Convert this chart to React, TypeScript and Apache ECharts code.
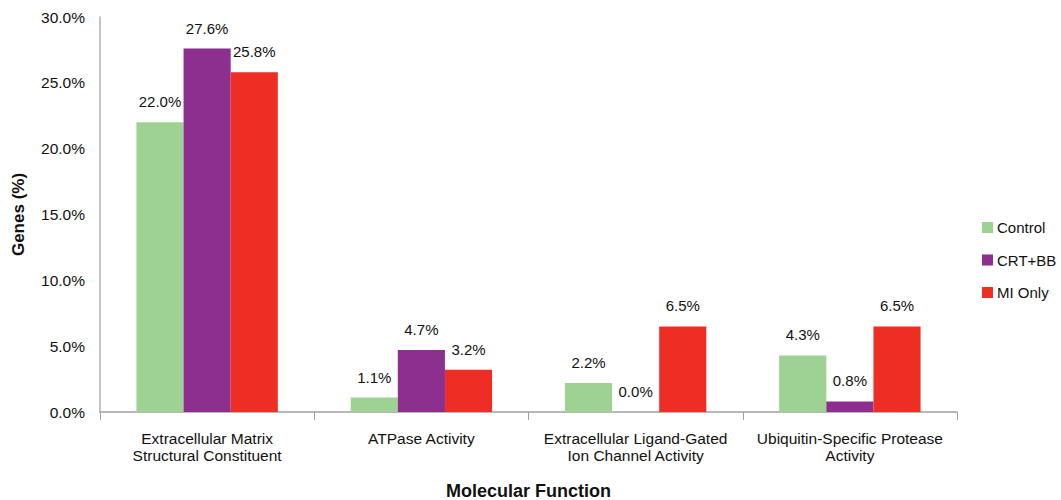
import React, { useEffect, useRef } from "react";
import * as echarts from "echarts";

const categories = [
  "Extracellular Matrix\nStructural Constituent",
  "ATPase Activity",
  "Extracellular Ligand-Gated\nIon Channel Activity",
  "Ubiquitin-Specific Protease\nActivity",
];
const control = [22.0, 1.1, 2.2, 4.3];
const crtbb = [27.6, 4.7, 0.0, 0.8];
const miOnly = [25.8, 3.2, 6.5, 6.5];
const seriesNames = ["Control", "CRT+BB", "MI Only"];
const colors = ["#9dd293", "#8c2f8f", "#ee2e24"];

const FONT = "Liberation Sans, Arial, sans-serif";

export default function App() {
  const ref = useRef<HTMLDivElement>(null);
  useEffect(() => {
    if (!ref.current) return;
    const chart = echarts.init(ref.current, null, { renderer: "svg" });
    const data = [control, crtbb, miOnly];
    chart.setOption({
      animation: false,
      textStyle: { fontFamily: FONT },
      grid: { left: 100, right: 104, top: 17, bottom: 88, containLabel: false, outerBoundsMode: "none" },
      legend: {
        orient: "vertical",
        left: 982,
        top: 220,
        padding: 0,
        itemWidth: 11,
        itemHeight: 11,
        itemGap: 17.5,
        icon: "rect",
        textStyle: { fontSize: 15, color: "#111", fontFamily: FONT, padding: [0, 0, 0, -1] },
        data: seriesNames,
      },
      xAxis: {
        type: "category",
        data: categories,
        name: "Molecular Function",
        nameLocation: "middle",
        nameGap: 70,
        nameTextStyle: { fontSize: 18, fontWeight: "bold", color: "#111", fontFamily: FONT },
        axisLine: { lineStyle: { color: "#a0a0a0", width: 1.5 } },
        axisTick: { show: true, length: 8, lineStyle: { color: "#a0a0a0" } },
        axisLabel: { fontSize: 15.5, color: "#111", margin: 18, lineHeight: 17, fontFamily: FONT, interval: 0 },
      },
      yAxis: {
        type: "value",
        min: 0,
        max: 30,
        interval: 5,
        name: "Genes (%)",
        nameLocation: "middle",
        nameGap: 73,
        nameTextStyle: { fontSize: 17, fontWeight: "bold", color: "#111", fontFamily: FONT },
        axisLine: { show: true, lineStyle: { color: "#b0b0b0", width: 1.5 } },
        axisTick: { show: false },
        splitLine: { show: false },
        axisLabel: {
          fontSize: 15.5,
          color: "#111",
          margin: 15,
          fontFamily: FONT,
          formatter: (v: number) => v.toFixed(1) + "%",
        },
      },
      series: seriesNames.map((name, i) => ({
        name,
        type: "bar",
        data: data[i],
        barGap: "0%",
        barCategoryGap: "34%",
        itemStyle: { color: colors[i] },
        label: {
          show: true,
          position: "top",
          distance: 13,
          fontSize: 15,
          color: "#111",
          fontFamily: FONT,
          formatter: (p: any) => Number(p.value).toFixed(1) + "%",
        },
      })),
    });
    return () => chart.dispose();
  }, []);
  return <div ref={ref} style={{ width: 1061, height: 500, position: "absolute", left: 0, top: 0 }} />;
}
